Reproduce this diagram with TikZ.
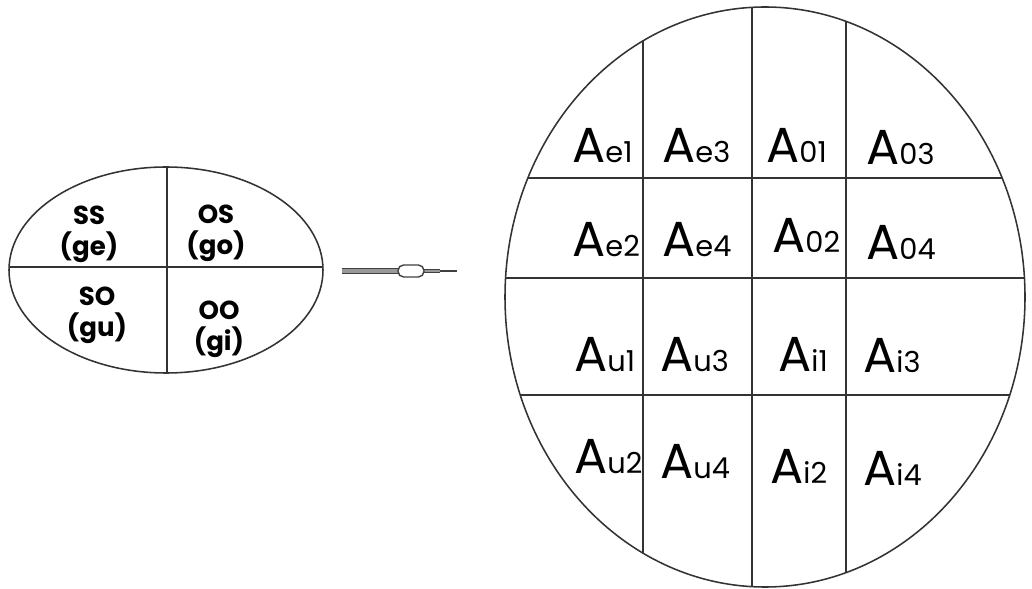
\documentclass[tikz,border=0pt]{standalone}
\usepackage{fontspec}
\setmainfont{Poppins}
\usetikzlibrary{positioning}
\newcommand{\Acell}[1]{A{\fontsize{20.5}{20.5}\selectfont #1}}
\begin{document}
\begin{tikzpicture}
[x=0.025cm, y=-0.025cm,
cell/.style={font=\fontsize{35}{35}\selectfont, inner sep=0pt, anchor=base west},
pair/.style={font=\bfseries\fontsize{18.5}{22}\selectfont, align=center, inner sep=0pt},
rim/.style={line width=1.1pt, black!80},
cut/.style={line width=1.2pt, black!80}
]
\useasboundingbox (0,0) rectangle (1032,589);
\coordinate (small) at (166,270);
\coordinate (big) at (765,297);
% small ellipse
\begin{scope}
    \clip (small) ellipse [x radius=157, y radius=103];
    \draw[cut] (167,150) -- (167,390);
    \draw[cut] (0,267) -- (340,267);
\end{scope}
\draw[rim] (small) ellipse [x radius=157, y radius=103];
\node[pair] (ss) at (89,234) {SS\\(ge)};
\node[pair] (os) at (216,233) {OS\\(go)};
\node[pair] (so) at (97,315) {SO\\(gu)};
\node[pair] (oo) at (219,329) {OO\\(gi)};
% arrow
\coordinate (arrS) at (342,271);
\coordinate (capL) at (398,271);
\coordinate (capR) at (424,271);
\coordinate (arrE) at (457,271);
\draw[line width=1pt, black!75, double=black!40, double distance=2.2pt] (arrS) -- (capL);
\draw[line width=1pt, black!75, double=black!40, double distance=1.2pt] (capR) -- (440,271);
\draw[line width=1.6pt, black!75] (440,271) -- (arrE);
\draw[line width=1pt, black!75, fill=white, rounded corners=4pt] (398,265) rectangle (424,277);
% big ellipse
\begin{scope}
    \clip (big) ellipse [x radius=260, y radius=290];
    \draw[cut] (643,0) -- (643,600);
    \draw[cut] (752,0) -- (752,600);
    \draw[cut] (846,0) -- (846,600);
    \draw[cut] (490,178) -- (1040,178);
    \draw[cut] (490,278) -- (1040,278);
    \draw[cut] (490,395) -- (1040,395);
\end{scope}
\draw[rim] (big) ellipse [x radius=260, y radius=290];
\node[cell] (ae1) at (572,163) {\Acell{e1}};
\node[cell] (ae3) at (662,163) {\Acell{e3}};
\node[cell] (a01) at (766,163) {\Acell{01}};
\node[cell] (a03) at (866,165) {\Acell{03}};
\node[cell] (ae2) at (572,257) {\Acell{e2}};
\node[cell] (ae4) at (662,257) {\Acell{e4}};
\node[cell] (a02) at (772,253) {\Acell{02}};
\node[cell] (a04) at (866,260) {\Acell{04}};
\node[cell] (au1) at (574,372) {\Acell{u1}};
\node[cell] (au3) at (660,372) {\Acell{u3}};
\node[cell] (ai1) at (778,372) {\Acell{i1}};
\node[cell] (ai3) at (863,373) {\Acell{i3}};
\node[cell] (au2) at (574,473) {\Acell{u2}};
\node[cell] (au4) at (660,478) {\Acell{u4}};
\node[cell] (ai2) at (770,483) {\Acell{i2}};
\node[cell] (ai4) at (863,485) {\Acell{i4}};
\end{tikzpicture}
\end{document}
